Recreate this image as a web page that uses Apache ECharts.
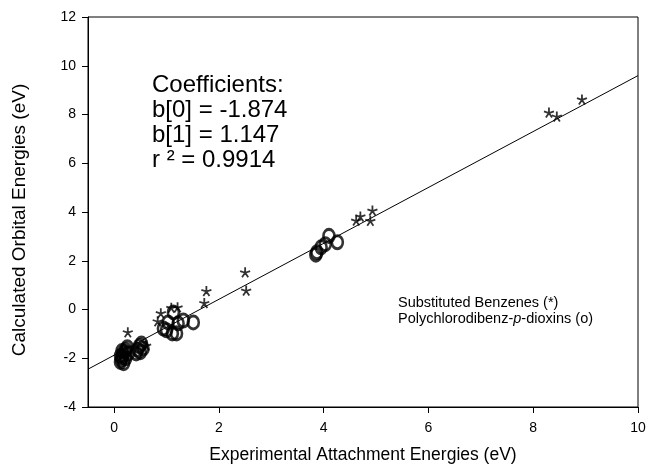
<!DOCTYPE html>
<html>
<head>
<meta charset="utf-8">
<script src="https://cdn.jsdelivr.net/npm/echarts@6/dist/echarts.min.js"></script>
<style>
html, body { margin: 0; padding: 0; background: #fff; }
#chart { width: 649px; height: 469px; }
</style>
</head>
<body>
<div id="chart"></div>
<script>
// substituted benzenes (*)  [experimental, calculated]
var benzenes = [
    [0.26, -0.93], [0.61, -1.48], [0.83, -0.48], [0.89, -0.15], [1.09, 0.07],
    [1.21, 0.09], [1.72, 0.27], [1.76, 0.76], [2.50, 1.53], [2.52, 0.78],
    [4.62, 3.65], [4.70, 3.82], [4.89, 3.64], [4.93, 4.06],
    [8.30, 8.08], [8.45, 7.92], [8.93, 8.62]
];
// polychlorodibenz-p-dioxins (o)
var dioxins = [
    [0.12, -2.15], [0.14, -2.05], [0.15, -1.95], [0.17, -1.85], [0.20, -1.75],
    [0.22, -1.65], [0.25, -1.55], [0.15, -1.70], [0.18, -2.20], [0.22, -2.00],
    [0.27, -1.80], [0.12, -1.90],
    [0.42, -1.80], [0.45, -1.65], [0.48, -1.50], [0.52, -1.40], [0.55, -1.60], [0.50, -1.75],
    [0.94, -0.78], [1.03, -0.53], [1.11, -0.98], [1.13, -0.12], [1.22, -0.57],
    [1.32, -0.45], [1.51, -0.53], [1.19, -0.98], [1.00, -0.85],
    [3.85, 2.25], [3.87, 2.35], [3.95, 2.55], [4.03, 2.68], [4.10, 3.02], [4.26, 2.76]
];
// fit coefficients
var b0 = -1.874;
var b1 = 1.147;
var xRange = [-0.5, 10];
var xTicks = [0, 2, 4, 6, 8, 10];
var coefLines = ['Coefficients:', 'b[0] = -1.874', 'b[1] = 1.147', 'r \u00b2 = 0.9914'];

var fitLine = xRange.map(function (x) { return [x, b0 + b1 * x]; });

var font = 'Liberation Sans, Arial, sans-serif';
var star = 'path://M0,0L0,-10M0,0L9.51,-3.09M0,0L5.88,8.09M0,0L-5.88,8.09M0,0L-9.51,-3.09';

var chart = echarts.init(document.getElementById('chart'));
var option = {
    animation: false,
    backgroundColor: '#fff',
    grid: {
        left: 88, right: 11, top: 17, bottom: 62,
        show: true, borderColor: '#000', borderWidth: 1
    },
    xAxis: {
        type: 'value',
        min: xRange[0],
        max: xRange[1],
        splitLine: {show: false},
        axisLine: {onZero: false, lineStyle: {color: '#000', width: 1}},
        axisTick: {customValues: xTicks, length: 6, lineStyle: {color: '#000'}},
        axisLabel: {customValues: xTicks, color: '#000', fontFamily: font, fontSize: 14, margin: 14}
    },
    yAxis: {
        type: 'value',
        min: -4,
        max: 12,
        interval: 2,
        splitLine: {show: false},
        axisLine: {onZero: false, lineStyle: {color: '#000', width: 1}},
        axisTick: {length: 6, lineStyle: {color: '#000'}},
        axisLabel: {color: '#000', fontFamily: font, fontSize: 14, margin: 12}
    },
    graphic: [
        {
            type: 'text', x: 152, y: 73,
            style: {
                text: coefLines.join('\n'),
                font: '24px ' + font, lineHeight: 25, fill: '#000'
            }
        },
        {
            type: 'text', x: 398, y: 295,
            style: {
                text: 'Substituted Benzenes (*)\n{n|Polychlorodibenz-}{i|p}{n|-dioxins (o)}',
                font: '14.5px ' + font, lineHeight: 16, fill: '#000',
                rich: {
                    n: {fontFamily: font, fontSize: 14.5, lineHeight: 16},
                    i: {fontFamily: font, fontSize: 14.5, fontStyle: 'italic', lineHeight: 16}
                }
            }
        },
        {
            type: 'text', x: 363, y: 455,
            style: {
                text: 'Experimental Attachment Energies (eV)',
                font: '17.5px ' + font, fill: '#000',
                textAlign: 'center', textVerticalAlign: 'middle'
            }
        },
        {
            type: 'text', x: 20, y: 220, rotation: Math.PI / 2,
            style: {
                text: 'Calculated Orbital Energies (eV)',
                font: '19px ' + font, fill: '#000',
                textAlign: 'center', textVerticalAlign: 'middle'
            }
        }
    ],
    series: [
        {
            name: 'fit',
            type: 'line',
            data: fitLine,
            symbol: 'none',
            lineStyle: {color: '#000', width: 1}
        },
        {
            name: 'Polychlorodibenz-p-dioxins',
            type: 'scatter',
            data: dioxins,
            symbol: 'circle',
            symbolSize: [11, 13],
            itemStyle: {color: 'rgba(0,0,0,0)', borderColor: '#000', borderWidth: 2.8}
        },
        {
            name: 'Substituted Benzenes',
            type: 'scatter',
            data: benzenes,
            symbol: star,
            symbolSize: 10,
            itemStyle: {color: 'rgba(0,0,0,0)', borderColor: '#000', borderWidth: 1.8}
        }
    ]
};
chart.setOption(option);
</script>
</body>
</html>
